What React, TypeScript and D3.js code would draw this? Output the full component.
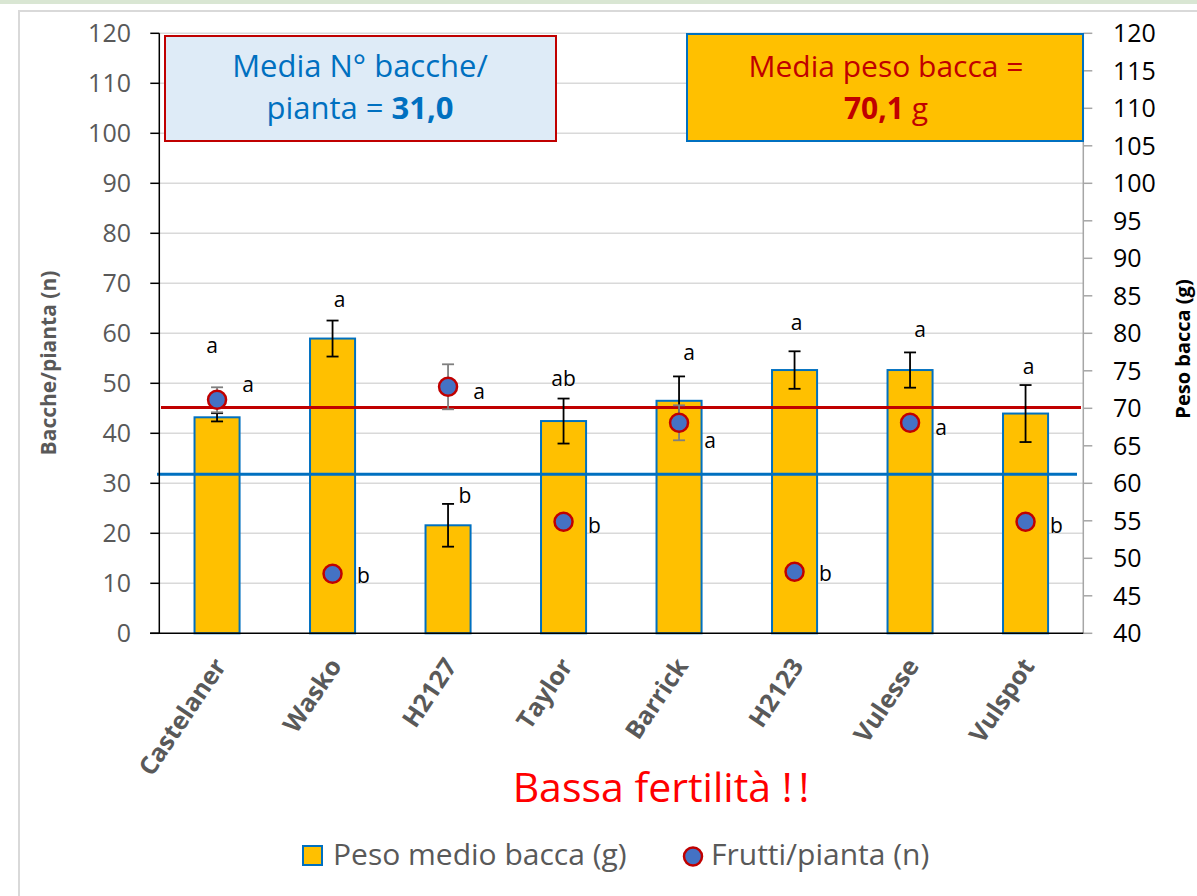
import React from 'react';
import * as d3 from 'd3';

// varieties
const categories = ['Castelaner', 'Wasko', 'H2127', 'Taylor', 'Barrick', 'H2123', 'Vulesse', 'Vulspot'];

// Peso medio bacca (g) - right axis
const pesoMedio = [68.8, 79.3, 54.4, 68.3, 71.0, 75.1, 75.1, 69.3];
const pesoErr = [0.55, 2.4, 2.85, 3.0, 3.25, 2.5, 2.35, 3.8];
const pesoLetters = ['a', 'a', 'b', 'ab', 'a', 'a', 'a', 'a'];
// where the letters sit (right axis units)
const pesoLetterAt = [78.4, 84.5, 58.3, 74.0, 77.4, 81.4, 80.5, 75.5];
const pesoLetterDx = [-5, 7, 17, 0, 10, 2, 10, 3];

// Frutti/pianta (n) - left axis
const frutti = [46.7, 11.9, 49.3, 22.3, 42.1, 12.3, 42.1, 22.3];
const fruttiErr = [2.5, 1, 4.5, 1, 3.5, 1, 1, 1];
const fruttiLetters = ['a', 'b', 'a', 'b', 'a', 'b', 'a', 'b'];
const fruttiLetterDy = [-15, 2, 5, 4, 18, 2, 5, 4];

// reference lines
const meanPeso = 70.1;
const meanFrutti = 31.0;
const fruttiLineLevel = 31.8;

const leftTicks = d3.range(0, 121, 10);
const rightTicks = d3.range(40, 121, 5);

const FONT = "'Open Sans', 'Noto Sans', sans-serif";

export default function App() {
  const left = 159.3, right = 1083.3, top = 33.3, bottom = 633.3;

  const x = d3.scaleBand<string>()
    .domain(categories)
    .range([left, right])
    .paddingInner(0.61)
    .paddingOuter(0.305);
  const yL = d3.scaleLinear().domain([0, 120]).range([bottom, top]);
  const yR = d3.scaleLinear().domain([40, 120]).range([bottom, top]);
  const cx = (c: string) => (x(c) as number) + x.bandwidth() / 2;

  return (
    <div style={{ position: 'absolute', left: 0, top: 0 }}>
      <svg width={1197} height={896} style={{ display: 'block', background: '#fff' }} fontFamily={FONT}>
        {/* page decoration */}
        <rect x={0} y={0} width={1197} height={4} fill="#D9E6D3" />
        <rect x={19} y={11} width={1300} height={1000} fill="none" stroke="#D9D9D9" strokeWidth={2} />

        {/* gridlines */}
        {leftTicks.filter(t => t > 0).map(t => (
          <line key={'g' + t} x1={left} x2={right} y1={yL(t)} y2={yL(t)} stroke="#D9D9D9" strokeWidth={1.5} />
        ))}

        {/* bars */}
        {categories.map((c, i) => (
          <rect key={'b' + c} x={x(c)} y={yR(pesoMedio[i])} width={x.bandwidth()}
            height={bottom - yR(pesoMedio[i])} fill="#FFC000" stroke="#0070C0" strokeWidth={2} />
        ))}

        {/* mean lines */}
        <line x1={157} x2={1077} y1={yL(fruttiLineLevel)} y2={yL(fruttiLineLevel)} stroke="#0070C0" strokeWidth={3} />
        <line x1={161} x2={1081} y1={yR(meanPeso)} y2={yR(meanPeso)} stroke="#C00000" strokeWidth={3} />

        {/* bar error bars */}
        {categories.map((c, i) => {
          const y1 = yR(pesoMedio[i] + pesoErr[i]), y2 = yR(pesoMedio[i] - pesoErr[i]);
          const xc = cx(c);
          return (
            <g key={'e' + c} stroke="#000" strokeWidth={1.8}>
              <line x1={xc} x2={xc} y1={y1} y2={y2} />
              <line x1={xc - 6} x2={xc + 6} y1={y1} y2={y1} />
              <line x1={xc - 6} x2={xc + 6} y1={y2} y2={y2} />
            </g>
          );
        })}

        {/* point error bars */}
        {categories.map((c, i) => {
          const y1 = yL(frutti[i] + fruttiErr[i]), y2 = yL(frutti[i] - fruttiErr[i]);
          const xc = cx(c);
          return (
            <g key={'pe' + c} stroke="#7F7F7F" strokeWidth={1.8}>
              <line x1={xc} x2={xc} y1={y1} y2={y2} />
              <line x1={xc - 6} x2={xc + 6} y1={y1} y2={y1} />
              <line x1={xc - 6} x2={xc + 6} y1={y2} y2={y2} />
            </g>
          );
        })}

        {/* points */}
        {categories.map((c, i) => (
          <circle key={'p' + c} cx={cx(c)} cy={yL(frutti[i])} r={9} fill="#4472C4" stroke="#C00000" strokeWidth={2.5} />
        ))}

        {/* letters */}
        {categories.map((c, i) => (
          <text key={'lb' + c} x={cx(c) + pesoLetterDx[i]} y={yR(pesoLetterAt[i])} dy="0.35em"
            textAnchor="middle" fontSize={21} fill="#000">{pesoLetters[i]}</text>
        ))}
        {categories.map((c, i) => (
          <text key={'lp' + c} x={cx(c) + 31} y={yL(frutti[i]) + fruttiLetterDy[i]} dy="0.35em"
            textAnchor="middle" fontSize={21} fill="#000">{fruttiLetters[i]}</text>
        ))}

        {/* left axis */}
        <line x1={left} x2={left} y1={top} y2={bottom} stroke="#000" strokeWidth={1.5} />
        {leftTicks.map(t => (
          <g key={'lt' + t}>
            <line x1={left - 9} x2={left} y1={yL(t)} y2={yL(t)} stroke="#000" strokeWidth={1.5} />
            <text x={131} y={yL(t)} dy="0.35em" textAnchor="end" fontSize={25} fill="#595959">{t}</text>
          </g>
        ))}
        {/* right axis */}
        <line x1={right} x2={right} y1={top} y2={bottom} stroke="#A6A6A6" strokeWidth={1.5} />
        {rightTicks.map(t => (
          <g key={'rt' + t}>
            <line x1={right} x2={right + 9} y1={yR(t)} y2={yR(t)} stroke="#A6A6A6" strokeWidth={1.5} />
            <text x={1113} y={yR(t)} dy="0.35em" textAnchor="start" fontSize={25} fill="#000">{t}</text>
          </g>
        ))}
        {/* x axis */}
        <line x1={150} x2={right} y1={bottom} y2={bottom} stroke="#000" strokeWidth={1.5} />
        {categories.map(c => (
          <text key={'xl' + c} transform={`translate(${cx(c) + 10},${666}) rotate(-56)`}
            textAnchor="end" fontSize={25} fontWeight="bold" fill="#595959">{c}</text>
        ))}

        {/* axis titles */}
        <text transform="translate(56,363) rotate(-90)" textAnchor="middle" fontSize={21} fontWeight="bold" fill="#595959">
          Bacche/pianta (n)
        </text>
        <text transform="translate(1190,349) rotate(-90)" textAnchor="middle" fontSize={20} fontWeight="bold" fill="#000">
          Peso bacca (g)
        </text>

        {/* info boxes */}
        <rect x={165} y={36} width={391} height={105} fill="#DEEBF7" stroke="#C00000" strokeWidth={2} />
        <text x={360} y={77} textAnchor="middle" fontSize={31} fill="#0070C0">Media N° bacche/</text>
        <text x={360} y={119} textAnchor="middle" fontSize={31} fill="#0070C0">
          pianta = <tspan fontWeight="bold">{meanFrutti.toFixed(1).replace('.', ',')}</tspan>
        </text>

        <rect x={687} y={34} width={396} height={107} fill="#FFC000" stroke="#0070C0" strokeWidth={2} />
        <text x={886} y={77} textAnchor="middle" fontSize={30} fill="#C00000">Media peso bacca =</text>
        <text x={886} y={119} textAnchor="middle" fontSize={30} fill="#C00000">
          <tspan fontWeight="bold">{meanPeso.toFixed(1).replace('.', ',')}</tspan> g
        </text>

        {/* title under chart */}
        <text x={661} y={802} textAnchor="middle" fontSize={41} fill="#FF0000" letterSpacing={0}>
          Bassa fertilità !<tspan dx={6}>!</tspan>
        </text>

        {/* legend */}
        <rect x={303} y={846} width={19} height={19} fill="#FFC000" stroke="#0070C0" strokeWidth={2} />
        <text x={333} y={865} fontSize={30} fill="#595959">Peso medio bacca (g)</text>
        <circle cx={693} cy={856.5} r={9} fill="#4472C4" stroke="#C00000" strokeWidth={2.5} />
        <text x={711} y={865} fontSize={30} fill="#595959">Frutti/pianta (n)</text>
      </svg>
    </div>
  );
}
